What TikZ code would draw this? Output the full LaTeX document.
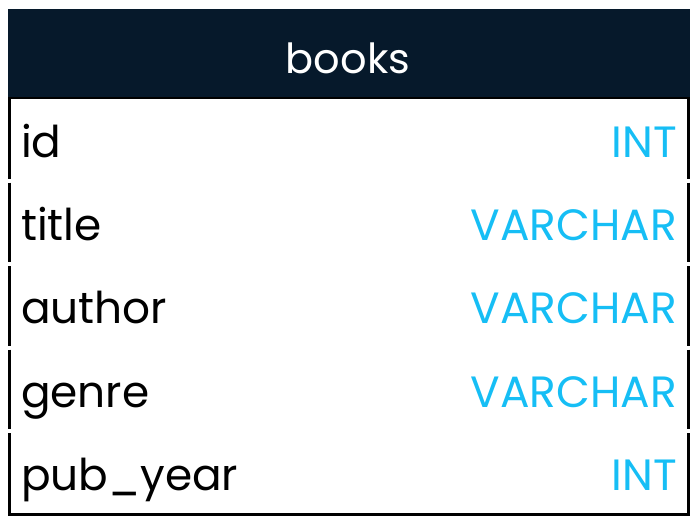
\documentclass[tikz,border=0pt]{standalone}
\usepackage{fontspec}
\setmainfont{Poppins}
\definecolor{headbg}{RGB}{6,25,43}
\definecolor{typeblue}{RGB}{22,190,245}
\begin{document}
\begin{tikzpicture}[x=1pt,y=-1pt,
  fieldname/.style={anchor=base west,inner sep=0pt,text=black,font=\fontsize{43.8}{52}\selectfont},
  fieldtype/.style={anchor=base east,inner sep=0pt,text=typeblue,font=\fontsize{43.8}{52}\selectfont},
  tabletitle/.style={anchor=base,inner sep=0pt,text=white,font=\fontsize{41.5}{50}\selectfont},
  border/.style={line width=3pt,black}]
\useasboundingbox (0,0) rectangle (696,523);
% header bar
\fill[headbg] (8,9) rectangle (690,97);
\draw[line width=2pt,black] (8,97.5) -- (690,97.5);
\node[tabletitle] (title) at (348,73) {books};
% row borders: vertical sides with a small break between rows
\foreach \t/\b in {99/178.5, 182.5/262, 266/345.5, 349.5/429}{
  \draw[border] (9.5,\t) -- (9.5,\b);
  \draw[border] (688.5,\t) -- (688.5,\b);
}
\draw[border] (9.5,433) -- (9.5,514) -- (688.5,514) -- (688.5,433);
% fields
\node[fieldname] (n1) at (21,157) {id};
\node[fieldtype] (t1) at (677,157) {INT};
\node[fieldname] (n2) at (21,240.4) {title};
\node[fieldtype] (t2) at (677,240.4) {VARCHAR};
\node[fieldname] (n3) at (21,323.8) {author};
\node[fieldtype] (t3) at (677,323.8) {VARCHAR};
\node[fieldname] (n4) at (21,407.2) {genre};
\node[fieldtype] (t4) at (677,407.2) {VARCHAR};
\node[fieldname] (n5) at (21,490.6) {pub\_year};
\node[fieldtype] (t5) at (677,490.6) {INT};
\end{tikzpicture}
\end{document}
